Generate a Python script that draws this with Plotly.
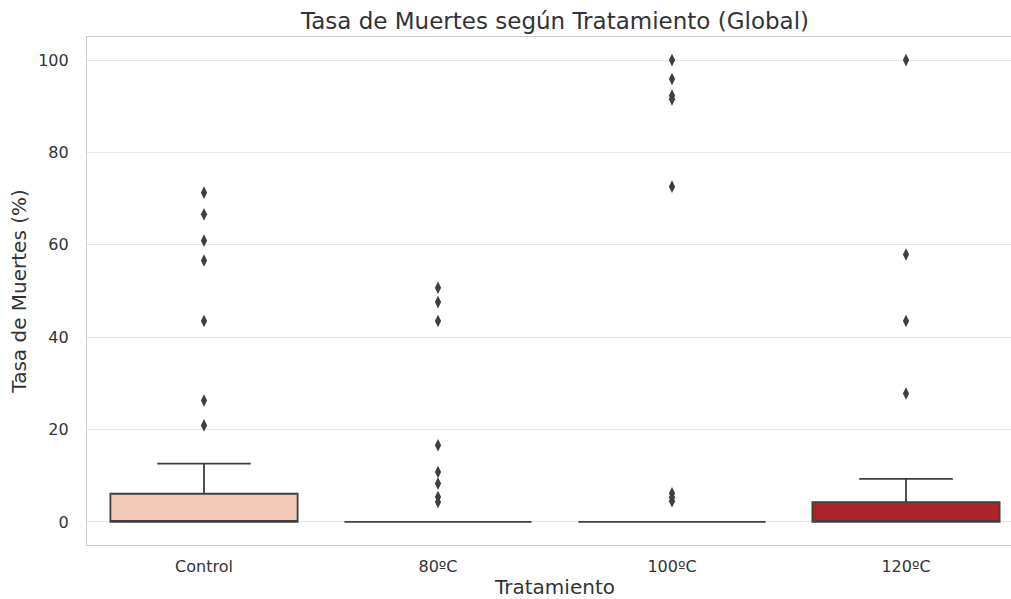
import plotly.graph_objects as go

categories = ["Control", "80ºC", "100ºC", "120ºC"]
q1 = [0, 0, 0, 0]
median = [0, 0, 0, 0]
q3 = [6.1, 0, 0, 4.3]
lowerfence = [0, 0, 0, 0]
upperfence = [12.6, 0, 0, 9.3]
box_colors = ["#f3c9b8", "#e0836a", "#d0453a", "#ac2429"]

outliers = {
    "Control": [71.3, 66.6, 60.9, 56.6, 43.5, 26.3, 20.9],
    "80ºC": [50.7, 47.6, 43.5, 16.6, 10.8, 8.3, 5.4, 4.3],
    "100ºC": [100.0, 95.9, 92.3, 91.5, 72.6, 6.2, 5.3, 4.5],
    "120ºC": [100.0, 57.9, 43.5, 27.8],
}

y_ticks = [0, 20, 40, 60, 80, 100]

edge = "#3f3f3f"
text_color = "#333333"
font_family = "DejaVu Sans"

fig = go.Figure()
for i, cat in enumerate(categories):
    fig.add_trace(go.Box(
        x=[cat], q1=[q1[i]], median=[median[i]], q3=[q3[i]],
        lowerfence=[lowerfence[i]], upperfence=[upperfence[i]],
        fillcolor=box_colors[i], line=dict(color=edge, width=1.8),
        width=0.8, whiskerwidth=0.5, boxpoints=False, showlegend=False,
        hoverinfo="skip",
    ))
for cat in categories:
    vals = outliers[cat]
    fig.add_trace(go.Scatter(
        x=[cat] * len(vals), y=vals, mode="markers",
        marker=dict(symbol="diamond-tall", size=9, color=edge),
        showlegend=False, hoverinfo="skip",
    ))

fig.update_layout(
    width=1100, height=599, autosize=False,
    paper_bgcolor="white", plot_bgcolor="white",
    margin=dict(l=87, r=77, t=37, b=54),
    font=dict(family=font_family, color=text_color, size=16),
    title=dict(text="Tasa de Muertes según Tratamiento (Global)",
               xref="paper", x=0.5, xanchor="center",
               yref="container", y=0.965, yanchor="middle",
               font=dict(size=23, color=text_color)),
    boxmode="overlay",
)
fig.update_xaxes(
    categoryorder="array", categoryarray=categories,
    range=[-0.5, 3.5], showgrid=False, zeroline=False, automargin=False,
    showline=True, linecolor="#cccccc", linewidth=1.2, mirror=True,
    ticks="", ticklabelstandoff=7, tickfont=dict(size=16, color=text_color),
    title=dict(text="Tratamiento", font=dict(size=20, color=text_color), standoff=7),
)
fig.update_yaxes(
    range=[-5, 105], tickvals=y_ticks, ticktext=[str(v) for v in y_ticks],
    showgrid=True, gridcolor="#e6e6e6", gridwidth=1.2, zeroline=False, automargin=False,
    showline=True, linecolor="#cccccc", linewidth=1.2, mirror=False,
    ticks="", ticklabelstandoff=14, tickfont=dict(size=16, color=text_color),
    title=dict(text="Tasa de Muertes (%)", font=dict(size=20, color=text_color), standoff=6),
)

fig.write_html("out.html",
               config={"displayModeBar": False, "responsive": False},
               post_script="document.body.style.margin='0';document.body.style.overflow='hidden';")
